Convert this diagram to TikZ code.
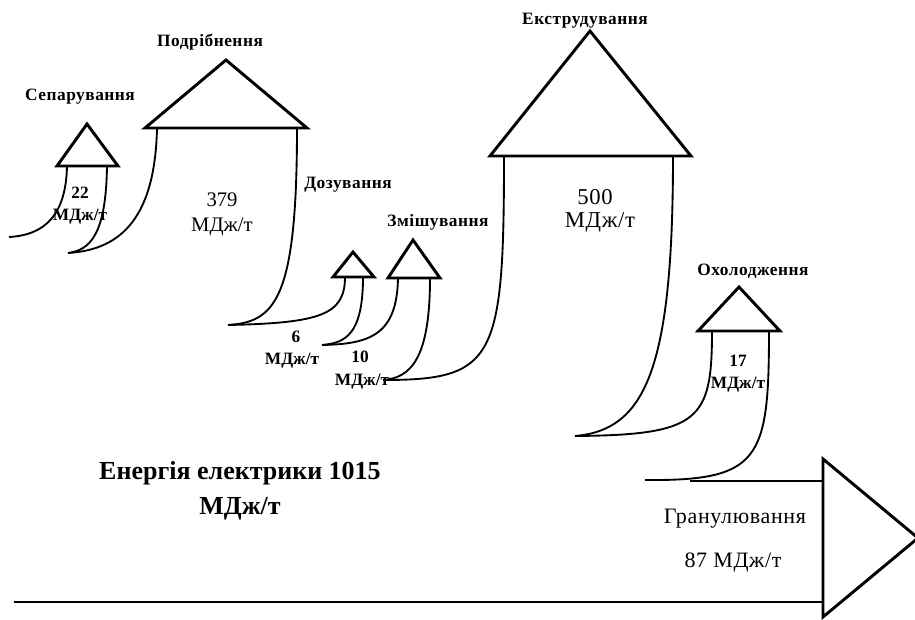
\documentclass[tikz,border=0pt]{standalone}
\usepackage{fontspec}
\setmainfont{Liberation Serif}
\newfontfamily\spaced[LetterSpace=3]{Liberation Serif}

\begin{document}
\begin{tikzpicture}[x=0.75pt,y=0.75pt,yscale=-1,xscale=1,
    tri/.style={line width=2.2pt,line join=miter},
    flow/.style={line width=1.4pt},
    stage/.style={inner sep=0.75pt,font=\spaced\bfseries\fontsize{13}{15}\selectfont},
    small/.style={inner sep=0.75pt,font=\bfseries\fontsize{13}{15}\selectfont},
    big/.style={inner sep=0.75pt,font=\fontsize{15.5}{18}\selectfont},
    wide/.style={inner sep=0.75pt,font=\spaced\fontsize{17}{20}\selectfont},
    grn/.style={inner sep=0.75pt,font=\spaced\fontsize{16.5}{19}\selectfont},
    total/.style={inner sep=0.75pt,font=\bfseries\fontsize{19.5}{23}\selectfont}]
            %uncomment if require: \path (0,619); %set diagram left start at 0, and has height of 619
            \useasboundingbox (0,0) rectangle (915,619);

            % tips where two flows meet
            \coordinate (t0) at (9,237);
            \coordinate (t1) at (68,253);
            \coordinate (t2) at (228,325);
            \coordinate (t3) at (322,345);
            \coordinate (t4) at (383,380);
            \coordinate (t5) at (575,436);
            \coordinate (t6) at (645,480);

            %Shape: Triangle [Сепарування]
            \draw [tri]  (57,166) -- (87,124) -- (118,166) -- cycle ;
            %Shape: Triangle [Подрібнення]
            \draw [tri]  (145,128) -- (226,60) -- (307,128) -- cycle ;
            %Shape: Triangle [Дозування]
            \draw [tri]  (333,277) -- (353,252) -- (374,277) -- cycle ;
            %Shape: Triangle [Змішування]
            \draw [tri]  (388,278) -- (413,240) -- (440,278) -- cycle ;
            %Shape: Triangle [Екструдування]
            \draw [tri]  (490,156) -- (590,31) -- (691,156) -- cycle ;
            %Shape: Triangle [Охолодження]
            \draw [tri]  (698,331) -- (739,287) -- (780,331) -- cycle ;
            %Shape: Triangle [Гранулювання]
            \draw [tri]  (823,459) -- (918,538) -- (823,617) -- cycle ;

            % feet of the flows under the triangles
            \coordinate (sepL) at (67,166);
            \coordinate (sepR) at (107,166);
            \coordinate (crsL) at (157,128);
            \coordinate (crsR) at (297,128);
            \coordinate (dosL) at (345,277);
            \coordinate (dosR) at (363,277);
            \coordinate (mixL) at (398,278);
            \coordinate (mixR) at (430,278);
            \coordinate (extL) at (504,156);
            \coordinate (extR) at (673,156);
            \coordinate (colL) at (712,331);
            \coordinate (colR) at (769,331);
            \coordinate (grnT) at (823,481);
            \coordinate (grnB) at (823,602);
            \coordinate (topS) at (690,481);
            \coordinate (botS) at (14,602);

            %Curve Lines
            \draw [flow] (sepL) .. controls (66,215) and (45,235) .. (t0) ;
            \draw [flow] (sepR) .. controls (106,235) and (90,250) .. (t1) ;
            \draw [flow] (crsL) .. controls (155,225) and (115,250) .. (t1) ;
            \draw [flow] (crsR) .. controls (297,300) and (275,322) .. (t2) ;
            \draw [flow] (dosL) .. controls (345,315) and (320,323) .. (t2) ;
            \draw [flow] (dosR) .. controls (363,335) and (345,343) .. (t3) ;
            \draw [flow] (mixL) .. controls (397,335) and (370,344) .. (t3) ;
            \draw [flow] (mixR) .. controls (430,360) and (410,378) .. (t4) ;
            \draw [flow] (extL) .. controls (504,360) and (495,380) .. (t4) ;
            \draw [flow] (extR) .. controls (673,370) and (645,430) .. (t5) ;
            \draw [flow] (colL) .. controls (712,420) and (700,435) .. (t5) ;
            \draw [flow] (colR) .. controls (769,460) and (760,481) .. (t6) ;
            %Straight Lines
            \draw [flow] (topS) -- (grnT) ;
            \draw [line width=2.2pt] (botS) -- (grnB) ;

            % Text Node
            \draw (80,97) node [stage] (sepName) {Сепарування};
            % Text Node
            \draw (210,42) node [stage] (crsName) {Подрібнення};
            % Text Node
            \draw (348,185) node [stage] (dosName) {Дозування};
            % Text Node
            \draw (438,222) node [stage] (mixName) {Змішування};
            % Text Node
            \draw (585,21) node [stage] (extName) {Екструдування};
            % Text Node
            \draw (753,271) node [stage] (colName) {Охолодження};
            % Text Node
            \draw (80,193) node [small] (sepVal) {22};
            \draw (80,217) node [small] (sepUnit) {МДж/т};
            % Text Node
            \draw (222,200) node [big] (crsVal) {379};
            \draw (222,227) node [big] (crsUnit) {МДж/т};
            % Text Node
            \draw (296,337) node [small] (dosVal) {6};
            \draw (292,361) node [small] (dosUnit) {МДж/т};
            % Text Node
            \draw (360,357) node [small] (mixVal) {10};
            \draw (362,382) node [small] (mixUnit) {МДж/т};
            % Text Node
            \draw (595,197) node [wide] (extVal) {500};
            \draw (600,222) node [wide] (extUnit) {МДж/т};
            % Text Node
            \draw (738,361) node [small] (colVal) {17};
            \draw (738,385) node [small] (colUnit) {МДж/т};
            % Text Node
            \draw (735,519) node [grn] (grnName) {Гранулювання};
            \draw (733,563) node [grn] (grnVal) {87 МДж/т};
            % Text Node
            \draw (240,473) node [total] (elName) {Енергія електрики 1015};
            \draw (240,509) node [total] (elUnit) {МДж/т};

        \end{tikzpicture}
\end{document}
